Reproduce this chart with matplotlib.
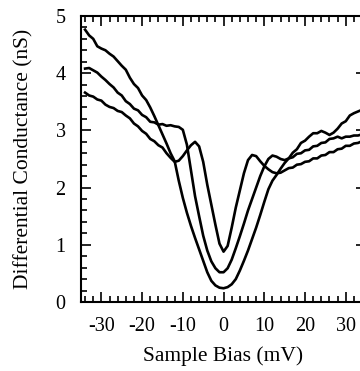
import matplotlib
matplotlib.use("Agg")
import matplotlib.pyplot as plt
from matplotlib.ticker import MultipleLocator

plt.rcParams['font.family'] = ['Liberation Serif', 'DejaVu Serif']
plt.rcParams['axes.unicode_minus'] = False

# sample bias (mV)
bias = list(range(-34, 36))

# outer curve (deepest gap)
g_outer = [4.76, 4.66, 4.60, 4.47, 4.43, 4.40, 4.34, 4.29, 4.21, 4.13,
           4.06, 3.92, 3.81, 3.74, 3.61, 3.53, 3.40, 3.25, 3.09, 2.93,
           2.77, 2.60, 2.46, 2.12, 1.82, 1.56, 1.33, 1.12, 0.92, 0.72,
           0.52, 0.37, 0.29, 0.25, 0.24, 0.26, 0.31, 0.40, 0.55, 0.72,
           0.90, 1.10, 1.30, 1.52, 1.75, 1.97, 2.12, 2.22, 2.33, 2.43,
           2.51, 2.61, 2.67, 2.78, 2.82, 2.89, 2.95, 2.95, 2.99, 2.96,
           2.92, 2.96, 3.03, 3.12, 3.16, 3.26, 3.30, 3.33, 3.36, 3.38]

# middle curve
g_middle = [4.08, 4.09, 4.05, 4.01, 3.94, 3.88, 3.81, 3.75, 3.66, 3.61,
            3.51, 3.46, 3.38, 3.35, 3.27, 3.23, 3.15, 3.14, 3.10, 3.11,
            3.08, 3.09, 3.07, 3.06, 3.01, 2.75, 2.30, 1.85, 1.50, 1.16,
            0.90, 0.71, 0.59, 0.52, 0.52, 0.59, 0.74, 0.94, 1.15, 1.37,
            1.60, 1.80, 2.00, 2.20, 2.37, 2.50, 2.56, 2.54, 2.50, 2.48,
            2.51, 2.53, 2.59, 2.60, 2.65, 2.66, 2.72, 2.73, 2.78, 2.79,
            2.85, 2.86, 2.89, 2.86, 2.89, 2.89, 2.91, 2.91, 2.93, 2.94]

# inner curve (shallowest gap)
g_inner = [3.66, 3.61, 3.59, 3.54, 3.52, 3.45, 3.41, 3.39, 3.34, 3.32,
           3.26, 3.21, 3.12, 3.07, 2.99, 2.94, 2.85, 2.81, 2.74, 2.70,
           2.60, 2.52, 2.45, 2.47, 2.55, 2.65, 2.74, 2.80, 2.72, 2.45,
           2.05, 1.70, 1.35, 1.02, 0.88, 0.98, 1.30, 1.65, 1.95, 2.25,
           2.48, 2.57, 2.55, 2.46, 2.38, 2.32, 2.27, 2.25, 2.26, 2.30,
           2.34, 2.35, 2.40, 2.41, 2.45, 2.46, 2.51, 2.51, 2.56, 2.57,
           2.62, 2.62, 2.67, 2.68, 2.73, 2.73, 2.77, 2.78, 2.81, 2.83]

fig = plt.figure(figsize=(3.6, 3.71), dpi=100)
ax = fig.add_axes([0.225, 0.186, 0.792, 0.771])

for g in [g_outer, g_middle, g_inner]:
    ax.plot(bias, g, color='black', linewidth=1.9)

ax.set_xlim(-35, 35)
ax.set_ylim(0, 5)
ax.xaxis.set_major_locator(MultipleLocator(10))
ax.xaxis.set_minor_locator(MultipleLocator(2))
ax.yaxis.set_major_locator(MultipleLocator(1))
ax.yaxis.set_minor_locator(MultipleLocator(0.2))
ax.tick_params(which='both', direction='in', top=True, right=True, labelsize=14.5, width=1.2)
ax.tick_params(axis='x', which='major', pad=11)
ax.tick_params(axis='y', which='major', pad=11)
ax.tick_params(which='major', length=7)
ax.tick_params(which='minor', length=4)
for s in ax.spines.values():
    s.set_linewidth(1.5)

ax.set_xlabel('Sample Bias (mV)', fontsize=15.5, labelpad=7)
ax.set_ylabel('Differential Conductance (nS)', fontsize=15.5, labelpad=16)

fig.savefig('out.png', dpi=100)
